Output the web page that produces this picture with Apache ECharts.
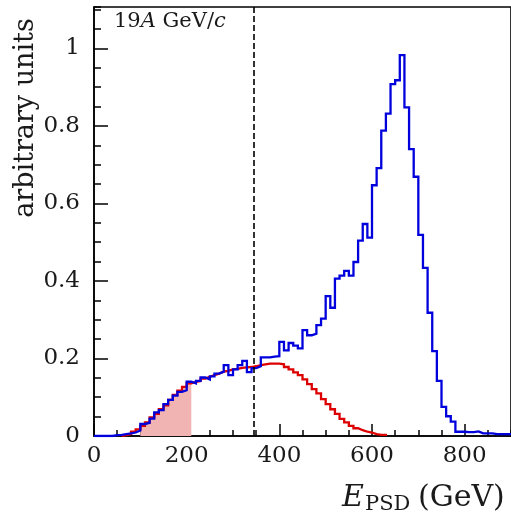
<!DOCTYPE html>
<html>
<head>
<meta charset="utf-8">
<script src="https://cdn.jsdelivr.net/npm/echarts@6/dist/echarts.min.js"></script>
<style>
  html, body { margin: 0; padding: 0; background: #fff; }
  #chart { width: 511px; height: 520px; }
</style>
</head>
<body>
<div id="chart"></div>
<script>
// Histogram binning (GeV)
const binWidth = 10;

// Full PSD energy spectrum, bins start at 0 GeV
const allStart = 0;
const allValues = [
  0, 0, 0, 0, 0.002, 0.003, 0.005, 0.007, 0.009, 0.014,
  0.031, 0.034, 0.045, 0.061, 0.067, 0.082, 0.093, 0.104, 0.114, 0.118,
  0.140, 0.136, 0.142, 0.151, 0.146, 0.154, 0.161, 0.166, 0.183, 0.157,
  0.172, 0.183, 0.194, 0.165, 0.175, 0.180, 0.203, 0.203, 0.205, 0.206,
  0.243, 0.221, 0.240, 0.233, 0.226, 0.273, 0.260, 0.264, 0.286, 0.303,
  0.361, 0.331, 0.406, 0.414, 0.426, 0.414, 0.449, 0.504, 0.547, 0.512,
  0.647, 0.691, 0.788, 0.832, 0.908, 0.918, 0.983, 0.848, 0.740, 0.669,
  0.519, 0.434, 0.318, 0.219, 0.142, 0.075, 0.051, 0.037, 0.011, 0.011,
  0.010, 0.010, 0.012, 0.007, 0.007, 0.007, 0.005, 0.005, 0.005, 0.005
];

// Background component, bins start at 60 GeV
const bgStart = 60;
const bgValues = [
  0.002, 0.005, 0.011, 0.017,
  0.026, 0.035, 0.048, 0.057, 0.069, 0.079, 0.093, 0.106, 0.117, 0.127,
  0.136, 0.140, 0.142, 0.148, 0.153, 0.157, 0.161, 0.166, 0.168, 0.172,
  0.173, 0.176, 0.177, 0.178, 0.180, 0.183, 0.185, 0.187, 0.187, 0.187,
  0.185, 0.178, 0.172, 0.164, 0.157, 0.146, 0.134, 0.121, 0.110, 0.095,
  0.082, 0.069, 0.057, 0.044, 0.035, 0.026, 0.020, 0.015, 0.011, 0.009,
  0.005, 0.003, 0.003
];

// Shaded band of the background and the cut position
const shadeFrom = 100;
const shadeTo = 210;
const cutValue = 345;

// Axis ranges and ticks
const xMax = 900;
const yMax = 1.107;
const xMajor = 200, xMinor = 50;
const yMajor = 0.2, yMinor = 0.05;

const serif = '"DejaVu Serif", "Liberation Serif", serif';
const ink = '#1a1a1a';

// Turn bin contents into step outline vertices (left edge, content)
function stepPoints(start, values, dropToZero) {
  const pts = [[start, 0]];
  values.forEach(function (v, i) { pts.push([start + i * binWidth, v]); });
  const end = start + values.length * binWidth;
  pts.push([end, dropToZero ? 0 : values[values.length - 1]]);
  return pts;
}

const allPts = stepPoints(allStart, allValues, false);
const bgPts = stepPoints(bgStart, bgValues, true);

const shadePts = [];
bgValues.forEach(function (v, i) {
  const lo = bgStart + i * binWidth;
  if (lo >= shadeFrom && lo < shadeTo) shadePts.push([lo, v]);
});
shadePts.push([shadeTo, shadePts[shadePts.length - 1][1]]);

const chart = echarts.init(document.getElementById('chart'), null, { renderer: 'canvas' });

const tickLine = { color: '#000', width: 1.5 };

chart.setOption({
  animation: false,
  backgroundColor: '#fff',
  grid: {
    left: 94, top: 7, width: 0.4725 * xMax, height: 429,
    show: true, borderColor: '#000', borderWidth: 1.6, backgroundColor: 'transparent'
  },
  xAxis: [
    {
      type: 'value', min: 0, max: xMax, interval: xMajor, position: 'bottom',
      axisLine: { show: true, lineStyle: tickLine },
      axisTick: { show: true, inside: true, length: 12, lineStyle: tickLine },
      axisLabel: { show: true, margin: 9, color: ink, fontFamily: serif, fontSize: 23, showMaxLabel: false },
      splitLine: { show: false }
    },
    {
      type: 'value', min: 0, max: xMax, interval: xMinor, position: 'bottom', gridIndex: 0,
      axisLine: { show: false },
      axisTick: { show: true, inside: true, length: 6, lineStyle: tickLine },
      axisLabel: { show: false },
      splitLine: { show: false }
    }
  ],
  yAxis: [
    {
      type: 'value', min: 0, max: yMax, interval: yMajor, position: 'left',
      axisLine: { show: true, lineStyle: tickLine },
      axisTick: { show: true, inside: true, length: 14, lineStyle: tickLine },
      axisLabel: { show: true, margin: 14, color: ink, fontFamily: serif, fontSize: 23, showMaxLabel: false },
      splitLine: { show: false }
    },
    {
      type: 'value', min: 0, max: yMax, interval: yMinor, position: 'left', gridIndex: 0,
      axisLine: { show: false },
      axisTick: { show: true, inside: true, length: 7, lineStyle: tickLine },
      axisLabel: { show: false },
      splitLine: { show: false }
    }
  ],
  series: [
    {
      name: 'shade', type: 'line', step: 'end', data: shadePts,
      xAxisIndex: 0, yAxisIndex: 0, showSymbol: false, symbol: 'none',
      lineStyle: { width: 0, color: '#f2b3b3' },
      areaStyle: { color: '#f2b3b3', opacity: 1 },
      z: 1
    },
    {
      name: 'background', type: 'line', step: 'end', data: bgPts,
      xAxisIndex: 0, yAxisIndex: 0, showSymbol: false, symbol: 'none',
      lineStyle: { width: 2.3, color: '#dd0000', join: 'miter' },
      z: 2
    },
    {
      name: 'all', type: 'line', step: 'end', data: allPts,
      xAxisIndex: 0, yAxisIndex: 0, showSymbol: false, symbol: 'none',
      lineStyle: { width: 2.3, color: '#0000dd', join: 'miter' },
      z: 3,
      markLine: {
        silent: true, symbol: 'none', label: { show: false },
        lineStyle: { type: [6, 3], color: '#000', width: 1.6 },
        data: [{ xAxis: cutValue }]
      }
    }
  ],
  graphic: [
    {
      type: 'text', x: 26, y: 118, rotation: Math.PI / 2,
      style: {
        text: 'arbitrary units', font: '27px ' + serif, fill: ink,
        align: 'center', verticalAlign: 'middle', textAlign: 'center', textVerticalAlign: 'middle'
      }
    },
    {
      type: 'text', x: 114, y: 22,
      style: {
        text: '{r|19}{i|A}{r| GeV/}{i|c}', fill: ink,
        align: 'left', verticalAlign: 'middle', textAlign: 'left', textVerticalAlign: 'middle',
        rich: {
          r: { fontFamily: serif, fontSize: 21, fill: ink },
          i: { fontFamily: serif, fontSize: 21, fontStyle: 'italic', fill: ink }
        }
      }
    },
    {
      type: 'text', x: 342, y: 498,
      style: {
        text: 'E', font: 'italic 30px ' + serif, fill: ink,
        align: 'left', verticalAlign: 'middle', textAlign: 'left', textVerticalAlign: 'middle'
      }
    },
    {
      type: 'text', x: 365, y: 505,
      style: {
        text: 'PSD', font: '21px ' + serif, fill: ink,
        align: 'left', verticalAlign: 'middle', textAlign: 'left', textVerticalAlign: 'middle'
      }
    },
    {
      type: 'text', x: 418, y: 498,
      style: {
        text: '(GeV)', font: '30px ' + serif, fill: ink,
        align: 'left', verticalAlign: 'middle', textAlign: 'left', textVerticalAlign: 'middle'
      }
    }
  ]
});
</script>
</body>
</html>
